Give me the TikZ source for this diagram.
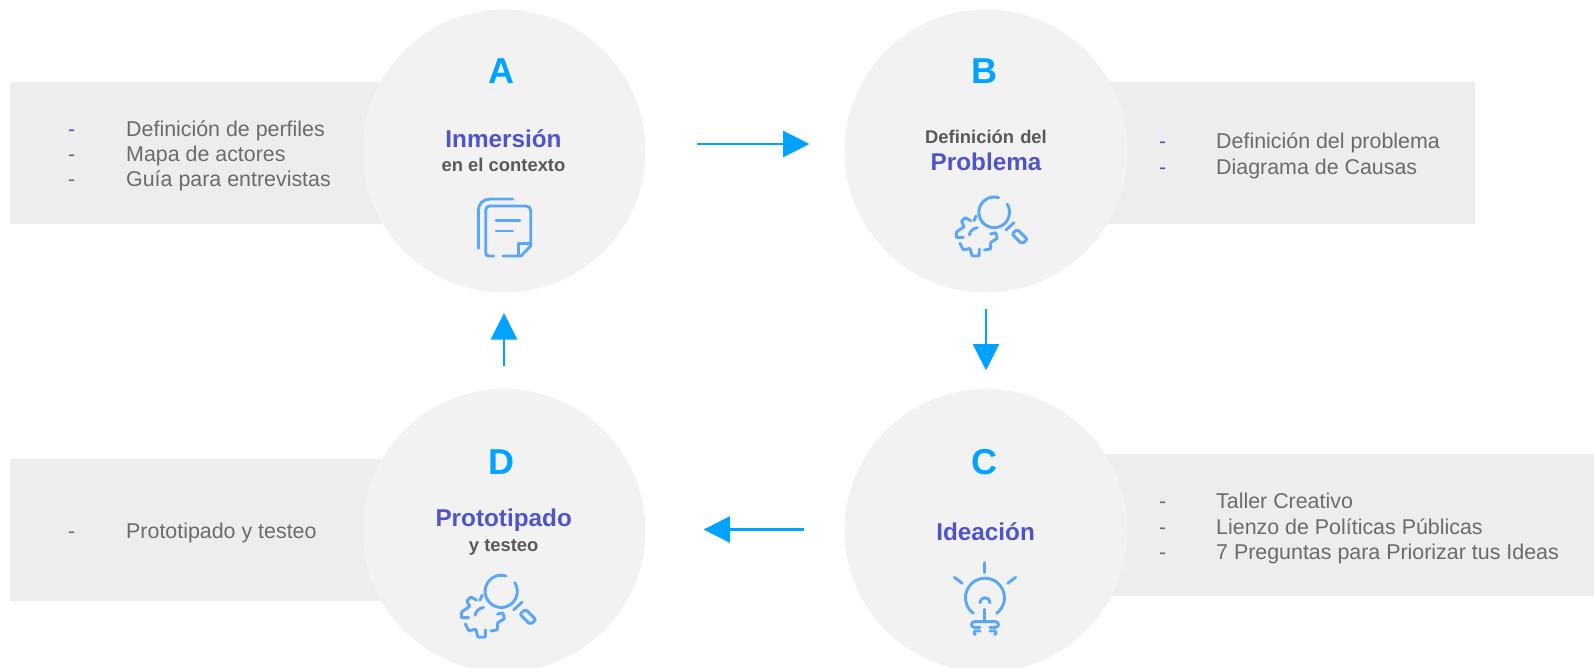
\documentclass[tikz,border=0pt]{standalone}
\usepackage{fontspec}
\setmainfont{Liberation Sans}
\usetikzlibrary{arrows.meta}
\definecolor{circ}{HTML}{F2F2F2}
\definecolor{band}{HTML}{EDEDED}
\definecolor{blu}{HTML}{00A3FF}
\definecolor{ico}{HTML}{5BA7F5}
\definecolor{indi}{HTML}{4F55C8}
\definecolor{gr}{HTML}{6B6B6B}
\definecolor{dk}{HTML}{595959}
\tikzset{x=1pt,y=-1pt,
 bandbox/.style={fill=band,draw=none,minimum height=142pt,anchor=north west,inner sep=0},
 disc/.style={circle,fill=circ,draw=none,minimum size=283pt,inner sep=0},
 letter/.style={font=\fontsize{36}{36}\selectfont\bfseries,text=blu,anchor=base},
 big/.style={font=\fontsize{24.3}{26}\selectfont\bfseries,text=indi,anchor=base},
 small/.style={font=\fontsize{18.4}{20}\selectfont\bfseries,text=dk,anchor=base},
 dashm/.style={font=\fontsize{21.4}{24}\selectfont,text=gr,anchor=base west,inner sep=0},
 item/.style={font=\fontsize{21.4}{24}\selectfont,text=gr,anchor=base west,inner sep=0},
 flow/.style={draw=blu,line width=2.5pt,-{Triangle[length=26.5pt,width=26pt]}},
 ic/.style={draw=ico,line width=2.9pt,line cap=round,line join=round,fill=none}}
\newcommand{\gearicon}{%
 \draw[ic] (206,53) arc[start angle=-73,end angle=-392.6,radius=46];
 \draw[ic] (228,150) -- (252,128);
 \draw[ic,rounded corners=2pt] (262,148) -- (292,178) -- (276,192) -- (246,162) -- cycle;
 \draw[ic,rounded corners=0.8pt] (122,122) -- (106,113) -- (94,125) -- (103,140) -- (80,155) -- (78,172) -- (100,172);
 \draw[ic,rounded corners=0.8pt] (90,190) -- (100,210) -- (120,205) -- (126,228) -- (147,228) -- (148,207);
 \draw[ic,rounded corners=0.8pt] (163,210) -- (182,207) -- (182,187) -- (202,175) -- (197,158) -- (182,162);
 \draw[ic] (118,165) .. controls (120,153) and (130,145) .. (142,143);
 \draw[ic] (138,108) -- (132,122);
}
\begin{document}
\begin{tikzpicture}
\useasboundingbox (0,0) rectangle (1594,667);
\node[bandbox,minimum width=400pt] (ba) at (10,82) {};
\node[bandbox,minimum width=400pt] (bb) at (1075,82) {};
\node[bandbox,minimum width=519pt] (bc) at (1075,454) {};
\node[bandbox,minimum width=400pt] (bd) at (10,459) {};
\node[disc] (A) at (504,151) {};
\node[disc] (B) at (986,151) {};
\node[disc] (C) at (986,530.5) {};
\node[disc] (D) at (504,530.5) {};
\node[letter] (la) at (501.5,83.3) {A};
\node[letter] (lb) at (984.5,83.3) {B};
\node[letter] (lc) at (984.5,474.7) {C};
\node[letter] (ld) at (501.5,474.7) {D};
\node[big] (ta) at (503.5,147.7) {Inmersión};
\node[small] (sa) at (503.5,171.7) {en el contexto};
\node[small] (sb) at (986,143.3) {Definición\hspace{1pt} del};
\node[big] (tb) at (986,170.7) {Problema};
\node[big] (tc) at (985.6,540) {Ideación};
\node[big] (td) at (503.7,526.7) {Prototipado};
\node[small] (sd) at (503.7,551) {y testeo};
\foreach \n/\y/\c/\t in {a1/136.5/indi/Definición de perfiles,a2/161/gr/Mapa de actores,a3/186.5/gr/Guía para entrevistas}{
 \node[dashm,text=\c] (d\n) at (68,\y) {-};
 \node[item] (\n) at (126,\y) {\t};}
\foreach \n/\y/\c/\t in {b1/148/indi/Definición del problema,b2/174/indi/Diagrama de Causas}{
 \node[dashm,text=\c] (d\n) at (1159,\y) {-};
 \node[item] (\n) at (1216,\y) {\t};}
\foreach \n/\y/\c/\t in {c1/508/gr/Taller Creativo,c2/534/gr/Lienzo de Políticas Públicas,c3/559/gr/7 Preguntas para Priorizar tus Ideas}{
 \node[dashm,text=\c] (d\n) at (1159,\y) {-};
 \node[item] (\n) at (1216,\y) {\t};}
\node[dashm] (dd1) at (68,538.5) {-};
\node[item] (d1) at (126,538.5) {Prototipado y testeo};
\coordinate (a1s) at (697,144); \coordinate (a1e) at (809.5,144);
\coordinate (a2s) at (986,309); \coordinate (a2e) at (986,370.5);
\coordinate (a3s) at (804,529.5); \coordinate (a3e) at (703.5,529.5);
\coordinate (a4s) at (504,366); \coordinate (a4e) at (504,313);
\draw[flow] (a1s) -- (a1e);
\draw[flow] (a2s) -- (a2e);
\draw[flow] (a3s) -- (a3e);
\draw[flow] (a4s) -- (a4e);
% icon A
\draw[ic] (478.3,248.3) -- (478.3,211) .. controls (478.3,204) and (483,199) .. (490,199) -- (512.7,199);
\draw[ic] (494,256) -- (489,256) .. controls (487,256) and (485.7,255) .. (485.7,253) -- (485.7,210) .. controls (485.7,207.5) and (487.5,206) .. (490,206) -- (526,206) .. controls (529,206) and (530.7,208) .. (530.7,210.7) -- (530.7,246) -- (521,256) -- (502.7,256);
\draw[ic] (518.7,256) -- (518.7,243.3) -- (530.7,243.3);
\draw[ic] (496,220.7) -- (520,220.7);
\draw[ic] (496,231) -- (512.7,231);
% icon B
\begin{scope}[shift={(930,180)},x=0.3333pt,y=-0.3333pt]
\gearicon
\end{scope}
% icon D
\begin{scope}[shift={(433.8,557.4)},x=0.35pt,y=-0.35pt]
\gearicon
\end{scope}
% icon C
\begin{scope}[shift={(930,550)},x=0.3333pt,y=-0.3333pt]
\draw[ic] (163,38) -- (163,68);
\draw[ic] (73,82) -- (97,100);
\draw[ic] (257,82) -- (233,100);
\draw[ic] (130,190) arc[start angle=126.7,end angle=413.3,radius=58.5];
\draw[ic] (150,158) arc[start angle=180,end angle=360,radius=15];
\draw[ic] (163,178) -- (163,215);
\draw[ic] (150,232) -- (133,232) .. controls (122,232) and (122,215) .. (133,215) -- (197,215) .. controls (208,215) and (208,232) .. (197,232) -- (180,232);
\draw[ic] (150,243) -- (135,243) .. controls (129,245) and (130,252) .. (136,254);
\draw[ic] (180,243) -- (195,243) .. controls (201,245) and (200,252) .. (194,254);
\end{scope}
\end{tikzpicture}
\end{document}
